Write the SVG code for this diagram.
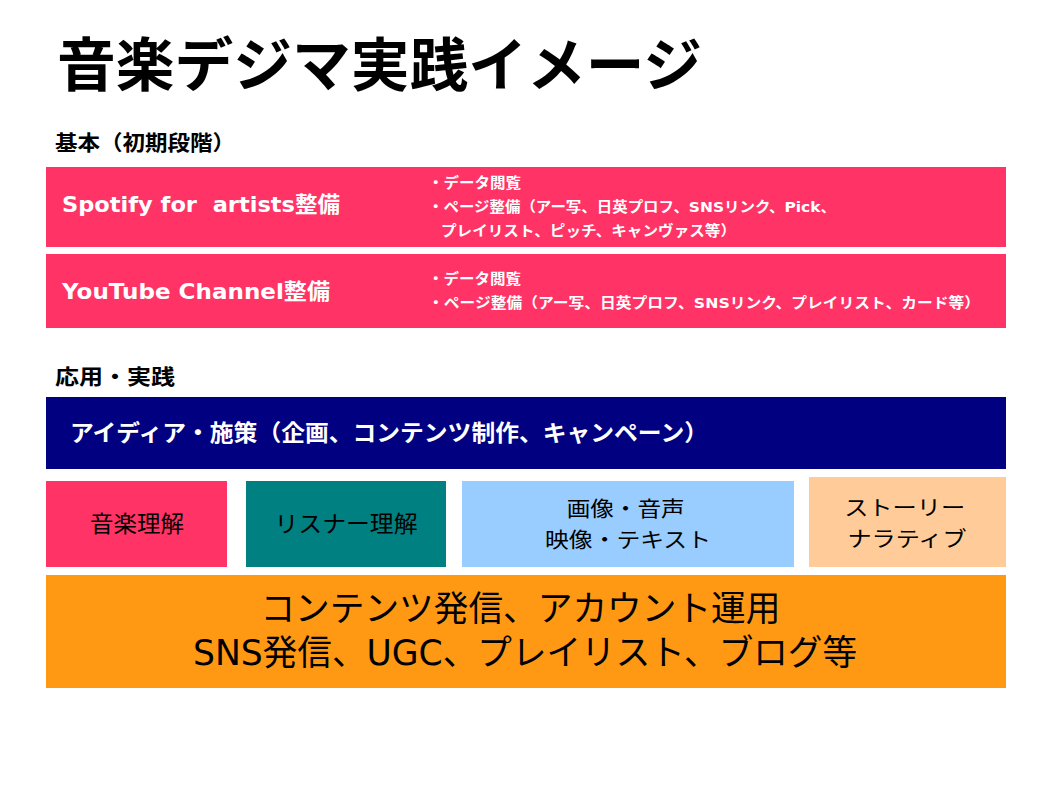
<svg xmlns="http://www.w3.org/2000/svg" width="1058" height="794" viewBox="0 0 1058 794">
<style>
text{font-family:"Noto Sans CJK JP","Noto Sans",sans-serif;}
.lat{font-family:"DejaVu Sans","Noto Sans CJK JP",sans-serif;}
.b{font-weight:bold;}
.w{fill:#ffffff;}
.k{fill:#000000;}
.c{text-anchor:middle;}
.pink{fill:#FF3366;}
.s{font-size:14.5px;}
</style>
<rect width="1058" height="794" fill="#ffffff"/>
<g id="title">
<text x="57" y="86" class="b k" font-size="58" textLength="645" lengthAdjust="spacingAndGlyphs">音楽デジマ実践イメージ</text>
</g>
<g id="label-basic">
<text x="55" y="150" class="b k" font-size="21" textLength="180" lengthAdjust="spacingAndGlyphs">基本（初期段階）</text>
</g>
<g id="spotify">
<rect x="46" y="167" width="960" height="80" class="pink"/>
<text x="62" y="212" class="b w lat" font-size="22" xml:space="preserve" textLength="278" lengthAdjust="spacingAndGlyphs">Spotify for  artists整備</text>
<text class="b w lat s">
<tspan x="428" y="188" textLength="93" lengthAdjust="spacingAndGlyphs">・データ閲覧</tspan>
<tspan x="428" y="212" textLength="408" lengthAdjust="spacingAndGlyphs">・ページ整備（アー写、日英プロフ、SNSリンク、Pick、</tspan>
<tspan x="441" y="236" textLength="295" lengthAdjust="spacingAndGlyphs">プレイリスト、ピッチ、キャンヴァス等）</tspan>
</text>
</g>
<g id="youtube">
<rect x="46" y="254" width="960" height="74" class="pink"/>
<text x="62" y="299" class="b w lat" font-size="22" textLength="268" lengthAdjust="spacingAndGlyphs">YouTube Channel整備</text>
<text class="b w lat s">
<tspan x="428" y="284" textLength="93" lengthAdjust="spacingAndGlyphs">・データ閲覧</tspan>
<tspan x="428" y="308" textLength="552" lengthAdjust="spacingAndGlyphs">・ページ整備（アー写、日英プロフ、SNSリンク、プレイリスト、カード等）</tspan>
</text>
</g>
<g id="label-applied">
<text x="55" y="384" class="b k" font-size="21" textLength="120" lengthAdjust="spacingAndGlyphs">応用・実践</text>
</g>
<g id="idea">
<rect x="46" y="397" width="960" height="72" fill="#000080"/>
<text x="70" y="441" class="b w" font-size="23" textLength="638" lengthAdjust="spacingAndGlyphs">アイディア・施策（企画、コンテンツ制作、キャンペーン）</text>
</g>
<g id="music">
<rect x="46" y="481" width="181" height="86" class="pink"/>
<text x="137" y="532" class="c k" font-size="23" textLength="94" lengthAdjust="spacingAndGlyphs">音楽理解</text>
</g>
<g id="listener">
<rect x="246" y="481" width="200" height="86" fill="#008080"/>
<text x="346" y="532" class="c k" font-size="23" textLength="143" lengthAdjust="spacingAndGlyphs">リスナー理解</text>
</g>
<g id="media">
<rect x="462" y="481" width="332" height="86" fill="#99CCFF"/>
<text class="c k" font-size="21">
<tspan x="628" y="516" textLength="118" lengthAdjust="spacingAndGlyphs">画像・音声</tspan>
<tspan x="628" y="547" textLength="166" lengthAdjust="spacingAndGlyphs">映像・テキスト</tspan>
</text>
</g>
<g id="story">
<rect x="809" y="477" width="197" height="90" fill="#FFCC99"/>
<text class="c k" font-size="21">
<tspan x="907" y="515" textLength="121" lengthAdjust="spacingAndGlyphs">ストーリー</tspan>
<tspan x="907" y="546" textLength="119" lengthAdjust="spacingAndGlyphs">ナラティブ</tspan>
</text>
</g>
<g id="content">
<rect x="46" y="575" width="960" height="113" fill="#FF9914"/>
<text class="c k lat" font-size="35">
<tspan x="526" y="621" textLength="520" lengthAdjust="spacingAndGlyphs">コンテンツ発信、アカウント運用</tspan>
<tspan x="525" y="665" textLength="664" lengthAdjust="spacingAndGlyphs">SNS発信、UGC、プレイリスト、ブログ等</tspan>
</text>
</g>
<g id="connectors"></g>
</svg>
